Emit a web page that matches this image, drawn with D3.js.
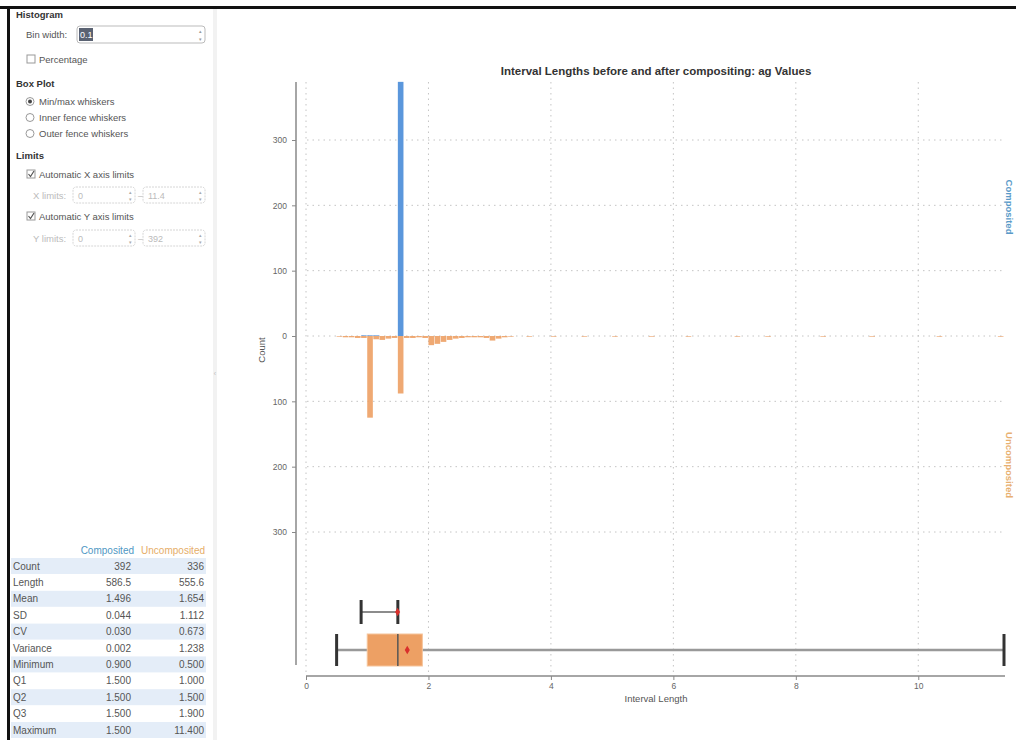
<!DOCTYPE html>
<html><head><meta charset="utf-8">
<script src="https://cdn.jsdelivr.net/npm/d3@7"></script>
<style>
html,body{margin:0;padding:0;background:#fff;}
svg text{font-family:"Liberation Sans",Arial,sans-serif;}
</style></head>
<body><svg id="c" width="1016" height="740"></svg>
<script>
// ---------- data ----------
const binWidth = 0.1;
// Composited histogram (bin start -> count)
const compBins   = [0.9, 1.0, 1.1, 1.5];
const compCounts = [1, 1, 1, 389];
// Uncomposited histogram (bin start -> count), drawn downward
const uncompBins   = [0.5,0.6,0.7,0.8,0.9,1.0,1.1,1.2,1.3,1.4,1.5,1.6,1.7,1.8,1.9,2.0,2.1,2.2,2.3,2.4,2.5,2.6,2.7,2.8,2.9,3.0,3.1,3.2,3.3,3.6,4.0,4.5,5.0,5.6,6.2,7.0,7.5,8.4,9.2,10.3,11.3];
const uncompCounts = [1,2,2,3,3,125,5,6,4,3,88,3,3,2,3,14,12,9,6,4,3,2,2,2,3,7,4,2,1,1,1,1,1,1,1,1,1,1,1,1,1];
// box plot statistics
const boxSeries = ["Composited", "Uncomposited"];
const boxMin  = [0.9, 0.5];
const boxQ1   = [1.5, 1.0];
const boxQ2   = [1.5, 1.5];
const boxQ3   = [1.5, 1.9];
const boxMax  = [1.5, 11.4];
const boxMean = [1.496, 1.654];
// axis ticks
const xTicks = [0, 2, 4, 6, 8, 10];
const yTicks = [300, 200, 100, 0, -100, -200, -300];
// stats table
const statNames = ["Count","Length","Mean","SD","CV","Variance","Minimum","Q1","Q2","Q3","Maximum"];
const statComp   = ["392","586.5","1.496","0.044","0.030","0.002","0.900","1.500","1.500","1.500","1.500"];
const statUncomp = ["336","555.6","1.654","1.112","0.673","1.238","0.500","1.000","1.500","1.900","11.400"];

const BLUE = "#5b97dc", ORANGE = "#eda064";
const svg = d3.select("#c");

// ---------- frame ----------
svg.append("rect").attr("x",0).attr("y",6).attr("width",1016).attr("height",3).attr("fill","#111");
svg.append("rect").attr("x",7).attr("y",6).attr("width",3).attr("height",734).attr("fill","#111");
svg.append("rect").attr("x",213).attr("y",9).attr("width",4).attr("height",731).attr("fill","#f2f2f2");
svg.append("text").attr("x",215).attr("y",376).attr("font-size",7).attr("fill","#bbb").attr("text-anchor","middle").text("‹");

// ---------- left panel ----------
const P = svg.append("g");
const lbl = (x,y,t,opt={}) => P.append("text").attr("x",x).attr("y",y).attr("font-size",opt.size||9.5)
  .attr("font-weight",opt.bold?"bold":"normal").attr("fill",opt.fill||"#555").attr("text-anchor",opt.anchor||"start").text(t);
function spin(x,w,y,val,disabled){
  P.append("rect").attr("x",x).attr("y",y).attr("width",w).attr("height",16).attr("rx",3)
   .attr("fill","#fff").attr("stroke",disabled?"#d6d6d6":"#bdbdbd").attr("stroke-dasharray",disabled?"2,1":null);
  P.append("text").attr("x",x+w-5).attr("y",y+7).attr("font-size",5).attr("fill","#aaa").attr("text-anchor","middle").text("▴");
  P.append("text").attr("x",x+w-5).attr("y",y+14).attr("font-size",5).attr("fill","#aaa").attr("text-anchor","middle").text("▾");
  lbl(x+5,y+12,val,{fill:disabled?"#bbb":"#333",size:9});
}
function check(x,y,checked){
  P.append("rect").attr("x",x).attr("y",y-8).attr("width",8).attr("height",8).attr("fill","#fff").attr("stroke","#999");
  if(checked) P.append("path").attr("d",`M${x+1.5},${y-4} L${x+3.5},${y-1.5} L${x+7},${y-7}`).attr("fill","none").attr("stroke","#555").attr("stroke-width",1.2);
}
function radio(x,y,on){
  P.append("circle").attr("cx",x+4).attr("cy",y-3.5).attr("r",4).attr("fill","#fff").attr("stroke","#999");
  if(on) P.append("circle").attr("cx",x+4).attr("cy",y-3.5).attr("r",2).attr("fill","#444");
}
lbl(16,18,"Histogram",{bold:true,fill:"#333"});
lbl(26,38,"Bin width:");
P.append("rect").attr("x",77).attr("y",26).attr("width",128).attr("height",17).attr("rx",3).attr("fill","#fff").attr("stroke","#bbb");
P.append("rect").attr("x",79).attr("y",28).attr("width",14).attr("height",13).attr("fill","#5a6272");
lbl(80,38,"0.1",{fill:"#fff",size:9});
P.append("text").attr("x",200).attr("y",33).attr("font-size",5).attr("fill","#999").attr("text-anchor","middle").text("▴");
P.append("text").attr("x",200).attr("y",41).attr("font-size",5).attr("fill","#999").attr("text-anchor","middle").text("▾");
check(27,63,false); lbl(39,63,"Percentage");
lbl(16,87,"Box Plot",{bold:true,fill:"#333"});
radio(26,105,true);  lbl(39,105,"Min/max whiskers");
radio(26,121,false); lbl(39,121,"Inner fence whiskers");
radio(26,137,false); lbl(39,137,"Outer fence whiskers");
lbl(16,159,"Limits",{bold:true,fill:"#333"});
check(27,178,true); lbl(39,178,"Automatic X axis limits");
lbl(33,199,"X limits:",{fill:"#bbb"});
spin(73,62,187,"0",true); lbl(138,199,"–",{fill:"#bbb"}); spin(143,62,187,"11.4",true);
check(27,220,true); lbl(39,220,"Automatic Y axis limits");
lbl(33,242,"Y limits:",{fill:"#bbb"});
spin(73,62,230,"0",true); lbl(138,242,"–",{fill:"#bbb"}); spin(143,62,230,"392",true);

// stats table
const T = svg.append("g");
T.append("text").attr("x",134).attr("y",554).attr("font-size",10).attr("fill","#4f97c4").attr("text-anchor","end").text("Composited");
T.append("text").attr("x",205).attr("y",554).attr("font-size",10).attr("fill","#e6ad68").attr("text-anchor","end").text("Uncomposited");
const rowY = d3.scalePoint().domain(statNames).range([566,730]);
statNames.forEach((n,i)=>{
  const y = rowY(n);
  if(i%2===0) T.append("rect").attr("x",11).attr("y",y-8).attr("width",195).attr("height",16).attr("fill","#e4edf8");
  T.append("text").attr("x",13).attr("y",y+3.5).attr("font-size",10).attr("fill","#555").text(n);
  T.append("text").attr("x",131).attr("y",y+3.5).attr("font-size",10).attr("fill","#555").attr("text-anchor","end").text(statComp[i]);
  T.append("text").attr("x",204).attr("y",y+3.5).attr("font-size",10).attr("fill","#555").attr("text-anchor","end").text(statUncomp[i]);
});

// ---------- chart ----------
const x = d3.scaleLinear().domain([0, 11.4]).range([306, 1004]);
const y = d3.scaleLinear().domain([-300, 300]).range([532, 140]);
const yb = d3.scalePoint().domain(boxSeries).range([612, 650]);
const G = svg.append("g");

// grid
G.selectAll(".hg").data(yTicks).join("line").attr("x1",307).attr("x2",1004)
  .attr("y1",d=>y(d)).attr("y2",d=>y(d)).attr("stroke","#c4c4c4").attr("stroke-dasharray","1.5,4");
G.selectAll(".vg").data(xTicks).join("line").attr("x1",d=>x(d)).attr("x2",d=>x(d))
  .attr("y1",82).attr("y2",672).attr("stroke","#c4c4c4").attr("stroke-dasharray","1.5,4");

// histogram bars
G.selectAll(".ub").data(uncompBins).join("rect")
  .attr("x",d=>x(d)).attr("width",d=>x(d+binWidth)-x(d)-0.5)
  .attr("y",y(0)).attr("height",(d,i)=>y(-uncompCounts[i])-y(0))
  .attr("fill",ORANGE).attr("opacity",0.9);
G.selectAll(".cb").data(compBins).join("rect")
  .attr("x",d=>x(d)).attr("width",d=>x(d+binWidth)-x(d)-0.5)
  .attr("y",(d,i)=>y(compCounts[i])).attr("height",(d,i)=>y(0)-y(compCounts[i]))
  .attr("fill",BLUE);

// axes
const yAxis = d3.axisLeft(y).tickValues(yTicks).tickFormat(d=>Math.abs(d)).tickSize(4).tickPadding(5);
const ya = G.append("g").attr("transform","translate(296,0)").call(yAxis);
ya.select(".domain").remove();
G.append("line").attr("x1",296).attr("x2",296).attr("y1",82).attr("y2",665).attr("stroke","#888").attr("stroke-width",1.5);
const xAxis = d3.axisBottom(x).tickValues(xTicks).tickSize(4).tickPadding(3);
const xa = G.append("g").attr("transform","translate(0,676)").call(xAxis);
xa.select(".domain").remove();
G.append("line").attr("x1",306).attr("x2",1005).attr("y1",676).attr("y2",676).attr("stroke","#888").attr("stroke-width",1.5);
[ya,xa].forEach(a=>{a.selectAll("text").attr("font-size",8.5).attr("fill","#666"); a.selectAll(".tick line").attr("stroke","#888");});

// box plots
boxSeries.forEach((s,i)=>{
  const cy = yb(s), h = i===0 ? 12 : 16;
  G.append("line").attr("x1",x(boxMin[i])).attr("x2",x(boxMax[i])).attr("y1",cy).attr("y2",cy)
   .attr("stroke",i===0?"#666":"#999").attr("stroke-width",i===0?1.5:2.5);
  if(boxQ3[i]>boxQ1[i]){
    G.append("rect").attr("x",x(boxQ1[i])).attr("width",x(boxQ3[i])-x(boxQ1[i]))
     .attr("y",cy-h).attr("height",2*h).attr("fill",ORANGE).attr("stroke","#f6c49a").attr("stroke-width",1);
  }
  G.append("line").attr("x1",x(boxQ2[i])).attr("x2",x(boxQ2[i])).attr("y1",cy-h).attr("y2",cy+h).attr("stroke","#555").attr("stroke-width",1.5);
  [boxMin[i],boxMax[i]].forEach(v=>G.append("line").attr("x1",x(v)).attr("x2",x(v))
     .attr("y1",cy-h).attr("y2",cy+h).attr("stroke","#333").attr("stroke-width",3));
  G.append("path").attr("d",d3.symbol(d3.symbolDiamond,22)()).attr("transform",`translate(${x(boxMean[i])},${cy})`).attr("fill","#d9302c");
});

// titles
G.append("text").attr("x",656).attr("y",75).attr("text-anchor","middle").attr("font-size",11.5).attr("font-weight","bold").attr("fill","#333")
  .text("Interval Lengths before and after compositing: ag Values");
G.append("text").attr("x",656).attr("y",702).attr("text-anchor","middle").attr("font-size",9.5).attr("fill","#555").text("Interval Length");
G.append("text").attr("transform","translate(265,350) rotate(-90)").attr("text-anchor","middle").attr("font-size",9.5).attr("fill","#555").text("Count");
G.append("text").attr("transform","translate(1006,207) rotate(90)").attr("text-anchor","middle").attr("font-size",9.5).attr("font-weight","bold").attr("fill","#5a9ac8").text("Composited");
G.append("text").attr("transform","translate(1006,465) rotate(90)").attr("text-anchor","middle").attr("font-size",9.5).attr("font-weight","bold").attr("fill","#e8b070").text("Uncomposited");
</script></body></html>
